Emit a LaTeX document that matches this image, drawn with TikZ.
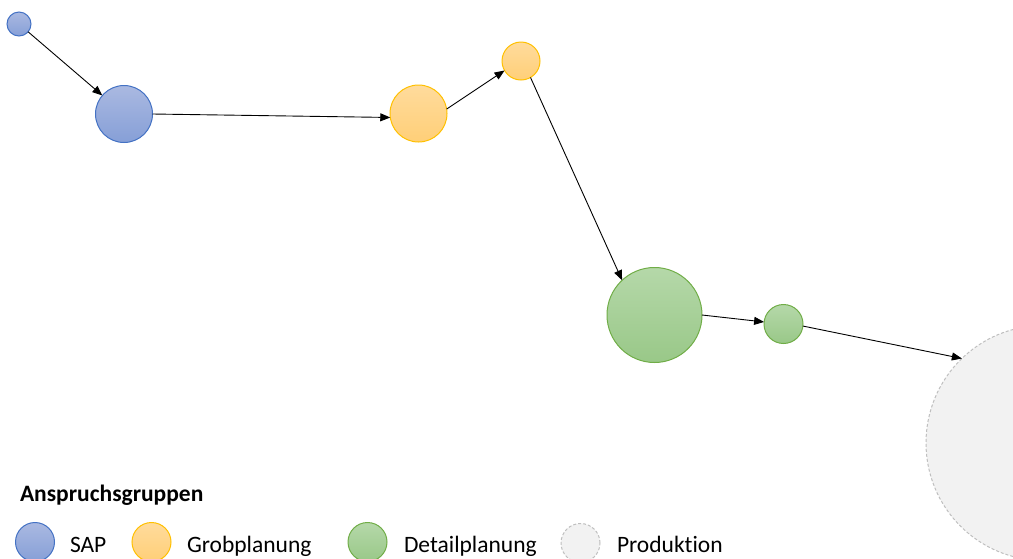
\documentclass[tikz,border=0pt]{standalone}
\usepackage{fontspec}
\setmainfont{Carlito}[Ligatures=NoCommon]
\usetikzlibrary{arrows.meta}
\definecolor{sapline}{HTML}{4472C4}
\definecolor{saptop}{HTML}{AAB9E1}
\definecolor{sapbot}{HTML}{869FD7}
\definecolor{grobline}{HTML}{FFC000}
\definecolor{grobtop}{HTML}{FFDB9C}
\definecolor{grobbot}{HTML}{FFCF78}
\definecolor{detline}{HTML}{70AD47}
\definecolor{dettop}{HTML}{B5D8A9}
\definecolor{detbot}{HTML}{99C888}
\definecolor{prodfill}{HTML}{F2F2F2}
\definecolor{prodline}{HTML}{BFBFBF}
\tikzset{
  x=1pt, y=-1pt,
  every node/.style={inner sep=0pt, outer sep=0pt},
  blob/.style={circle, minimum size=#1, line width=1pt},
  sapc/.style={blob=#1, draw=sapline, top color=saptop, bottom color=sapbot},
  grobc/.style={blob=#1, draw=grobline, top color=grobtop, bottom color=grobbot},
  detc/.style={blob=#1, draw=detline, top color=dettop, bottom color=detbot},
  prodc/.style={blob=#1, draw=prodline, fill=prodfill, dashed, dash pattern=on 3pt off 2pt},
  flow/.style={draw=black, line width=0.9pt, -{Triangle[length=10pt,width=8pt]}},
  legtext/.style={anchor=base west, font=\fontsize{23.5}{28}\selectfont},
}
\begin{document}
\begin{tikzpicture}
\useasboundingbox (0,0) rectangle (1013,558);
\clip (0,0) rectangle (1013,558);

% process nodes
\node[sapc=24pt]  (s1) at (19,24) {};
\node[sapc=57pt]  (s2) at (124,114) {};
\node[grobc=57pt] (g1) at (418.5,113.5) {};
\node[grobc=38pt] (g2) at (521,61) {};
\node[detc=95pt]  (d1) at (654.5,315) {};
\node[detc=39pt]  (d2) at (783.5,324) {};
\node[prodc=235pt] (p) at (1043.5,443) {};

% flow between the steps
\draw[flow] (s1) -- (s2);
\draw[flow] (s2.0) -- (g1.188);
\draw[flow] (g1.9) -- (g2.210);
\draw[flow] (g2.300) -- (d1.133);
\draw[flow] (d1.0) -- (d2.174);
\draw[flow] (d2.354) -- (p.134);

% legend
\node[legtext, font=\fontsize{23.5}{28}\selectfont\bfseries] (lt) at (20,501) {Anspruchsgruppen};
\node[sapc=39pt]  (l1) at (35,542) {};
\node[legtext] (l1t) at (70,552) {SAP};
\node[grobc=39pt] (l2) at (151.5,542) {};
\node[legtext] (l2t) at (187,552) {Grobplanung};
\node[detc=39pt]  (l3) at (367.5,542) {};
\node[legtext] (l3t) at (404,552) {Detailplanung};
\node[prodc=39pt] (l4) at (580.5,543) {};
\node[legtext] (l4t) at (617,552) {Produktion};
\end{tikzpicture}
\end{document}
